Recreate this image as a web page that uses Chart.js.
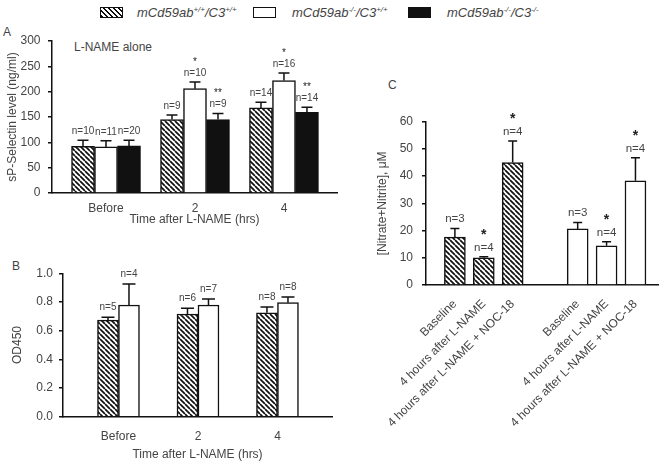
<!DOCTYPE html>
<html lang="en">
<head>
<meta charset="UTF-8" />
<title>sP-Selectin, OD450 and Nitrate+Nitrite</title>
<script src="https://cdn.jsdelivr.net/npm/chart.js"></script>
<style>
  body { margin: 0; background: #fff; font-family: "Liberation Sans", Arial, sans-serif; color: #444; }
  #page { position: relative; width: 664px; height: 471px; overflow: hidden; }
  canvas { position: absolute; }
  .txt { position: absolute; font-size: 12px; line-height: 14px; white-space: nowrap; }
  .sw { position: absolute; top: 7px; width: 23px; height: 11px; border: 1.5px solid #111; box-sizing: border-box; }
  .hatch { background: repeating-linear-gradient(45deg, #111 0 1.6px, #fff 1.6px 3.6px); }
  .lg { position: absolute; top: 5px; font-size: 13px; line-height: 15px; font-style: italic; white-space: nowrap; }
  .lg sup { font-size: 8px; vertical-align: 5px; line-height: 0; }
</style>
</head>
<body>
<div id="page">
  <div class="sw hatch" style="left:100px"></div>
  <div class="lg" style="left:137px">mCd59ab<sup>+/+</sup>/C3<sup>+/+</sup></div>
  <div class="sw" style="left:253px;background:#fff"></div>
  <div class="lg" style="left:292px">mCd59ab<sup>-/-</sup>/C3<sup>+/+</sup></div>
  <div class="sw" style="left:408px;background:#111"></div>
  <div class="lg" style="left:447px">mCd59ab<sup>-/-</sup>/C3<sup>-/-</sup></div>

  <div class="txt" style="left:3px;top:25px">A</div>
  <div class="txt" style="left:74px;top:40px">L-NAME alone</div>
  <div class="txt" style="left:12px;top:259px">B</div>
  <div class="txt" style="left:388px;top:78px">C</div>

  <canvas id="chartA" width="345" height="210" style="left:0;top:26px"></canvas>
  <canvas id="chartB" width="345" height="227" style="left:0;top:244px"></canvas>
  <canvas id="chartC" width="324" height="411" style="left:340px;top:60px"></canvas>
</div>
<script>
  // zaman noktalari (A ve B)
  const timeLabels = ['Before', '2', '4'];

  // A: sP-Selectin (ng/ml)
  const selWT = [92, 145, 168];
  const selWTErr = [12, 9, 11];
  const selWTN = [10, 9, 14];
  const selWTSig = ['', '', ''];
  const selKO = [91, 206, 222];
  const selKOErr = [12, 13, 15];
  const selKON = [11, 10, 16];
  const selKOSig = ['', '*', '*'];
  const selDKO = [93, 145, 159];
  const selDKOErr = [11, 12, 10];
  const selDKON = [20, 9, 14];
  const selDKOSig = ['', '**', '**'];

  // B: OD450
  const odWT = [0.674, 0.716, 0.725];
  const odWTErr = [0.019, 0.04, 0.04];
  const odWTN = [5, 6, 8];
  const odKO = [0.779, 0.779, 0.795];
  const odKOErr = [0.146, 0.041, 0.04];
  const odKON = [4, 7, 8];

  // C: [Nitrate+Nitrite], uM
  const conditions = ['Baseline', '4 hours after L-NAME', '4 hours after L-NAME + NOC-18'];
  const noWT = [17.6, 10.0, 45.0];
  const noWTErr = [3.2, 0.4, 7.9];
  const noWTN = [3, 4, 4];
  const noWTSig = ['', '*', '*'];
  const noKO = [20.6, 14.4, 38.3];
  const noKOErr = [2.4, 1.5, 8.5];
  const noKON = [3, 4, 4];
  const noKOSig = ['', '*', '*'];

  const FONT = '"Liberation Sans", Arial, sans-serif';
  const INK = '#111';
  Chart.defaults.font.family = FONT;
  Chart.defaults.color = '#444';
  Chart.defaults.animation = false;

  // tarama deseni
  function hatch() {
    const c = document.createElement('canvas');
    c.width = c.height = 5;
    const g = c.getContext('2d');
    g.fillStyle = '#fff';
    g.fillRect(0, 0, 5, 5);
    g.strokeStyle = INK;
    g.lineWidth = 1.7;
    g.beginPath();
    for (let k = -1; k <= 1; k++) {
      g.moveTo(k * 5, 0);
      g.lineTo(k * 5 + 5, 5);
    }
    g.stroke();
    return g.createPattern(c, 'repeat');
  }
  const HATCH = hatch();

  const pts = (vals, pos) => vals.map((v, i) => ({ x: pos ? pos(i) : i, y: v }));

  // hata cubuklari + n etiketleri
  const errorNotes = {
    id: 'errorNotes',
    afterDatasetsDraw(chart, args, o) {
      const ctx = chart.ctx, y = chart.scales.y;
      ctx.save();
      chart.data.datasets.forEach((ds, d) => {
        chart.getDatasetMeta(d).data.forEach((bar, i) => {
          const top = y.getPixelForValue(ds.data[i].y + ds.err[i]);
          ctx.strokeStyle = INK;
          ctx.lineWidth = 1.5;
          ctx.beginPath();
          ctx.moveTo(bar.x, bar.y);
          ctx.lineTo(bar.x, top);
          ctx.moveTo(bar.x - o.cap / 2, top);
          ctx.lineTo(bar.x + o.cap / 2, top);
          ctx.stroke();
          ctx.fillStyle = '#444';
          ctx.textAlign = 'center';
          ctx.textBaseline = 'alphabetic';
          ctx.font = o.nSize + 'px ' + FONT;
          ctx.fillText('n=' + ds.n[i], bar.x, top - o.nGap);
          if (ds.sig && ds.sig[i]) {
            ctx.font = o.sigFont;
            ctx.fillStyle = '#222';
            ctx.fillText(ds.sig[i], bar.x, top - o.nGap - o.sigGap);
          }
        });
      });
      ctx.restore();
    }
  };

  const axisLine = () => ({ color: INK, width: 1.5 });
  const yGrid = () => ({ drawOnChartArea: false, tickLength: 4, color: INK, lineWidth: 1.5 });
  const barStyle = { borderColor: INK, borderWidth: 1.5 };

  // Panel A
  new Chart(document.getElementById('chartA'), {
    type: 'bar',
    data: {
      datasets: [
        { data: pts(selWT), err: selWTErr, n: selWTN, sig: selWTSig, backgroundColor: HATCH, ...barStyle },
        { data: pts(selKO), err: selKOErr, n: selKON, sig: selKOSig, backgroundColor: '#fff', ...barStyle },
        { data: pts(selDKO), err: selDKOErr, n: selDKON, sig: selDKOSig, backgroundColor: INK, ...barStyle }
      ]
    },
    options: {
      responsive: false,
      layout: { padding: { top: 15, right: 8, left: 0, bottom: 5 } },
      datasets: { bar: { barThickness: 23 } },
      plugins: {
        legend: { display: false },
        tooltip: { enabled: false },
        errorNotes: { cap: 11, nSize: 10, nGap: 6, sigGap: 11, sigFont: '10px ' + FONT }
      },
      scales: {
        x: {
          type: 'linear', bounds: 'data', offset: false, min: -0.607, max: 2.596,
          afterBuildTicks: s => { s.ticks = timeLabels.map((_, i) => ({ value: i })); },
          afterFit: s => { s.height = 38; },
          grid: { display: false }, border: axisLine(),
          ticks: { autoSkip: false, minRotation: 0, maxRotation: 0, padding: 0, font: { size: 12 }, callback: (v, i) => timeLabels[i] },
          title: { display: true, text: 'Time after L-NAME (hrs)', font: { size: 12 }, padding: { top: 0, bottom: 3.8 } }
        },
        y: {
          min: 0, max: 300,
          afterFit: s => { s.width = 52; },
          grid: yGrid(), border: axisLine(),
          ticks: { stepSize: 50, padding: 7.5, font: { size: 12 } },
          title: { display: true, text: 'sP-Selectin level (ng/ml)', font: { size: 12 }, padding: { top: 5.3, bottom: 0 } }
        }
      }
    },
    plugins: [errorNotes]
  });

  // Panel B
  new Chart(document.getElementById('chartB'), {
    type: 'bar',
    data: {
      datasets: [
        { data: pts(odWT), err: odWTErr, n: odWTN, backgroundColor: HATCH, ...barStyle },
        { data: pts(odKO), err: odKOErr, n: odKON, backgroundColor: '#fff', ...barStyle }
      ]
    },
    options: {
      responsive: false,
      layout: { padding: { top: 29.3, right: 13, left: 0, bottom: 0 } },
      datasets: { bar: { barThickness: 21 } },
      plugins: {
        legend: { display: false },
        tooltip: { enabled: false },
        errorNotes: { cap: 13, nSize: 10, nGap: 7, sigGap: 11, sigFont: '10px ' + FONT }
      },
      scales: {
        x: {
          type: 'linear', bounds: 'data', offset: false, min: -0.698, max: 2.686,
          afterBuildTicks: s => { s.ticks = timeLabels.map((_, i) => ({ value: i })); },
          afterFit: s => { s.height = 54.3; },
          grid: { display: false }, border: axisLine(),
          ticks: { autoSkip: false, minRotation: 0, maxRotation: 0, padding: 4.8, font: { size: 12 }, callback: (v, i) => timeLabels[i] },
          title: { display: true, text: 'Time after L-NAME (hrs)', font: { size: 12 }, padding: { top: 0, bottom: 8.8 } }
        },
        y: {
          min: 0, max: 1.0,
          afterFit: s => { s.width = 63; },
          grid: yGrid(), border: axisLine(),
          ticks: { stepSize: 0.2, padding: 6, font: { size: 12 }, callback: v => v.toFixed(1) },
          title: { display: true, text: 'OD450', font: { size: 12 }, padding: { top: 10.8, bottom: 0 } }
        }
      }
    },
    plugins: [errorNotes]
  });

  // Panel C
  const groupGap = 1.25;
  const posWT = i => i;
  const posKO = i => i + conditions.length + groupGap;
  const tickC = conditions.map((_, i) => posWT(i)).concat(conditions.map((_, i) => posKO(i)));
  const labelsC = conditions.concat(conditions);

  new Chart(document.getElementById('chartC'), {
    type: 'bar',
    data: {
      datasets: [
        { data: pts(noWT, posWT), err: noWTErr, n: noWTN, sig: noWTSig, backgroundColor: HATCH, ...barStyle },
        { data: pts(noKO, posKO), err: noKOErr, n: noKON, sig: noKOSig, backgroundColor: '#fff', ...barStyle }
      ]
    },
    options: {
      responsive: false,
      layout: { padding: { top: 61.7, right: 6, left: 0, bottom: 0 } },
      datasets: { bar: { grouped: false, categoryPercentage: 1, barPercentage: 1, maxBarThickness: 21 } },
      plugins: {
        legend: { display: false },
        tooltip: { enabled: false },
        errorNotes: { cap: 9, nSize: 11.5, nGap: 6, sigGap: 12, sigFont: 'bold 14px ' + FONT }
      },
      scales: {
        x: {
          type: 'linear', bounds: 'data', offset: false, min: -1, max: 7.03,
          afterBuildTicks: s => { s.ticks = tickC.map(v => ({ value: v })); },
          afterFit: s => { s.height = 186; },
          grid: { display: false }, border: axisLine(),
          ticks: { autoSkip: false, minRotation: 45, maxRotation: 45, padding: 4, font: { size: 12 }, callback: (v, i) => labelsC[i] }
        },
        y: {
          min: 0, max: 60,
          afterFit: s => { s.width = 86; },
          grid: yGrid(), border: axisLine(),
          ticks: { stepSize: 10, padding: 9, font: { size: 12 } },
          title: { display: true, text: '[Nitrate+Nitrite], μM', font: { size: 12 }, padding: { top: 35, bottom: 0 } }
        }
      }
    },
    plugins: [errorNotes]
  });
</script>
</body>
</html>
